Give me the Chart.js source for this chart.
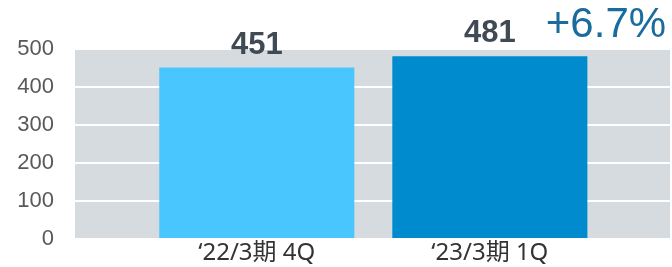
<!DOCTYPE html>
<html><head><meta charset="utf-8">
<script src="https://cdn.jsdelivr.net/npm/chart.js@4/dist/chart.umd.min.js"></script>
<style>html,body{margin:0;padding:0;background:#fff}#wrap{width:672px;height:267px}</style>
</head><body><div id="wrap"><canvas id="c" width="672" height="267"></canvas></div>
<script>
const categories = ['\u201822/3\u671f 4Q', '\u201823/3\u671f 1Q'];
const values = [451, 481];
const barColors = ['#4AC6FF', '#008BCF'];
const yTicks = [0, 100, 200, 300, 400, 500];
const changeLabel = '+6.7%';

const bgPlugin = {
  id: 'bg',
  beforeDraw(chart) {
    const {ctx, chartArea: a} = chart;
    ctx.save();
    ctx.fillStyle = '#D6DBE0';
    ctx.fillRect(a.left, a.top, a.right - a.left, a.bottom - a.top);
    ctx.restore();
  }
};
const labelPlugin = {
  id: 'lbl',
  afterDatasetsDraw(chart) {
    const {ctx} = chart;
    const meta = chart.getDatasetMeta(0);
    ctx.save();
    ctx.textAlign = 'center';
    ctx.textBaseline = 'alphabetic';
    meta.data.forEach((bar, i) => {
      ctx.fillStyle = '#404A55';
      ctx.font = 'bold 31px "Liberation Sans", Arial, sans-serif';
      ctx.fillText(String(values[i]), bar.x, bar.y - 14);
    });
    const last = meta.data[meta.data.length - 1];
    ctx.fillStyle = '#1A6C9E';
    ctx.font = '42px "Liberation Sans", Arial, sans-serif';
    ctx.textAlign = 'left';
    ctx.fillText(changeLabel, last.x + 56, last.y - 19);
    ctx.restore();
  }
};

new Chart(document.getElementById('c'), {
  type: 'bar',
  data: {
    datasets: [{
      data: values.map((v, i) => ({x: i, y: v})),
      backgroundColor: barColors,
      borderWidth: 0,
      barPercentage: 0.837,
      categoryPercentage: 1
    }]
  },
  options: {
    responsive: false,
    animation: false,
    events: [],
    layout: {padding: {top: 49, right: 2, left: 0, bottom: 0}},
    plugins: {legend: {display: false}, tooltip: {enabled: false}},
    scales: {
      x: {
        type: 'linear',
        offset: false,
        min: -0.78,
        max: 1.773,
        afterBuildTicks: axis => { axis.ticks = categories.map((c, i) => ({value: i})); },
        afterFit: axis => { axis.height = 28; axis.paddingLeft = 0; axis.paddingRight = 0; },
        grid: {display: false, offset: false, drawTicks: false},
        border: {display: false},
        ticks: {
          padding: 2,
          maxRotation: 0,
          color: '#333333',
          font: {size: 24, family: '"Noto Sans", "Noto Sans CJK JP", sans-serif', lineHeight: 1},
          callback: v => categories[v] ?? ''
        }
      },
      y: {
        min: 0,
        max: 500,
        afterBuildTicks: axis => { axis.ticks = yTicks.map(v => ({value: v})); },
        afterFit: axis => { axis.width = 75; axis.paddingTop = 0; axis.paddingBottom = 0; },
        grid: {color: '#FFFFFF', lineWidth: 2, drawTicks: false},
        border: {display: false},
        ticks: {
          padding: 21,
          color: '#595959',
          font: {size: 22, family: '"Liberation Sans", Arial, sans-serif'}
        }
      }
    }
  },
  plugins: [bgPlugin, labelPlugin]
});
</script></body></html>
